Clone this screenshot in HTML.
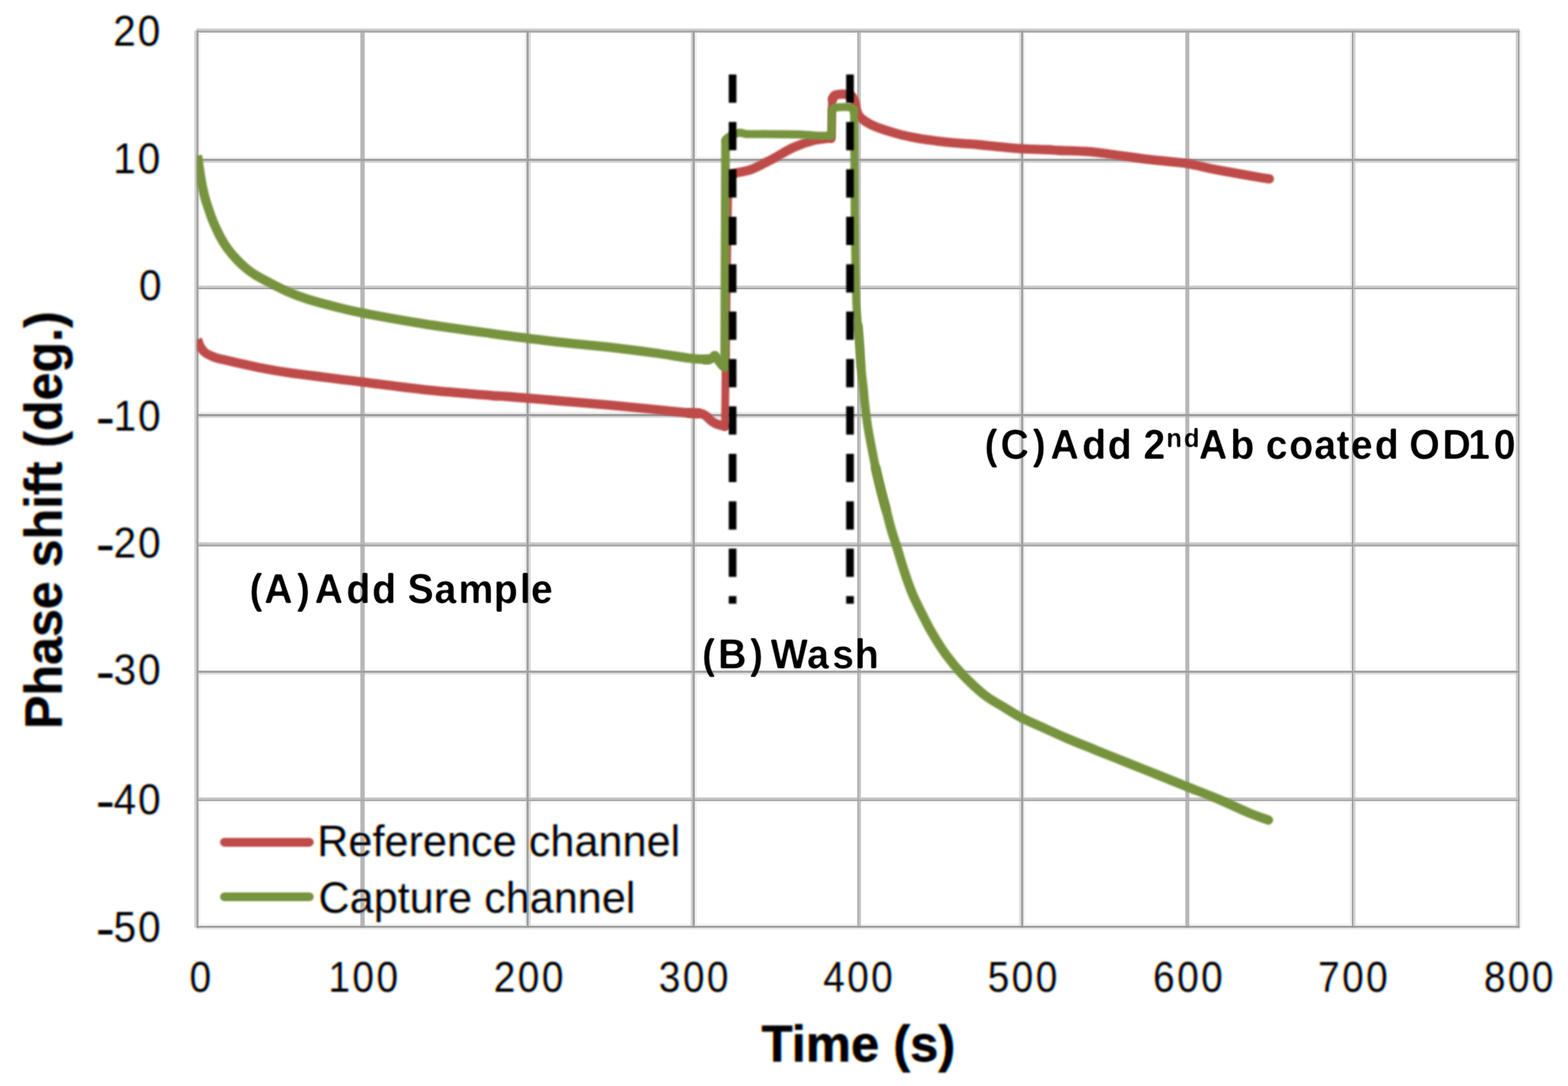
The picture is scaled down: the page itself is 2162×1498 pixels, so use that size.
<!DOCTYPE html>
<html lang="en">
<head>
<meta charset="utf-8">
<title>Phase shift vs Time</title>
<style>
html,body{margin:0;padding:0;background:#fff;}
body{width:2162px;height:1498px;overflow:hidden;}
svg{display:block;}
</style>
</head>
<body>
<svg xmlns="http://www.w3.org/2000/svg" width="2162" height="1498" viewBox="0 0 2162 1498">
<defs>
<filter id="soft" filterUnits="userSpaceOnUse" x="0" y="0" width="2162" height="1498"><feGaussianBlur stdDeviation="0.9"/></filter>
<filter id="softs" filterUnits="userSpaceOnUse" x="0" y="0" width="2162" height="1498"><feGaussianBlur stdDeviation="1.1"/></filter>
<filter id="softm" filterUnits="userSpaceOnUse" x="0" y="0" width="2162" height="1498"><feGaussianBlur stdDeviation="1.0"/></filter>
<filter id="softg" filterUnits="userSpaceOnUse" x="0" y="0" width="2162" height="1498"><feGaussianBlur stdDeviation="0.45"/></filter>
<filter id="softt" filterUnits="userSpaceOnUse" x="0" y="0" width="2162" height="1498" color-interpolation-filters="sRGB"><feGaussianBlur in="SourceGraphic" stdDeviation="0.8" result="b"/><feOffset in="b" dx="0.75" dy="0" result="r"/><feColorMatrix in="r" type="matrix" values="0 0 0 0 0  0 0 0 0 1  0 0 0 0 1  0 0 0 1 0" result="cy"/><feOffset in="b" dx="-0.75" dy="0" result="l"/><feColorMatrix in="l" type="matrix" values="0 0 0 0 1  0 0 0 0 1  0 0 0 0 0  0 0 0 1 0" result="ye"/><feColorMatrix in="b" type="matrix" values="0 0 0 0 1  0 0 0 0 0  0 0 0 0 1  0 0 0 1 0" result="mg"/><feBlend in="cy" in2="ye" mode="multiply" result="t1"/><feBlend in="t1" in2="mg" mode="multiply"/></filter>
<filter id="softa" filterUnits="userSpaceOnUse" x="0" y="0" width="2162" height="1498"><feGaussianBlur stdDeviation="1.0"/><feComponentTransfer><feFuncA type="linear" slope="2.0" intercept="-0.62"/></feComponentTransfer><feGaussianBlur stdDeviation="0.5"/></filter>
</defs>
<rect x="0" y="0" width="2162" height="1498" fill="#ffffff"/>
<g filter="url(#softg)" style="mix-blend-mode:multiply">
<rect x="270.90" y="399.00" width="1824.30" height="2.50" fill="#fbfbfb"/>
<rect x="270.90" y="45.00" width="1824.30" height="2.80" fill="#fafafa"/>
<rect x="270.90" y="922.30" width="1824.30" height="2.76" fill="#fafafa"/>
<rect x="270.90" y="753.70" width="1824.30" height="2.60" fill="#f8f8f8"/>
<rect x="270.90" y="1105.00" width="1824.30" height="2.60" fill="#f6f6f6"/>
<rect x="270.90" y="216.00" width="1824.30" height="2.90" fill="#f4f4f4"/>
<rect x="270.90" y="1274.10" width="1824.30" height="2.94" fill="#f2f2f2"/>
<rect x="273.70" y="42.10" width="2.50" height="1237.60" fill="#f1f1f1"/>
<rect x="723.10" y="42.10" width="2.80" height="1237.60" fill="#f1f1f1"/>
<rect x="958.10" y="42.10" width="2.80" height="1237.60" fill="#f1f1f1"/>
<rect x="1411.00" y="42.10" width="2.60" height="1237.60" fill="#f1f1f1"/>
<rect x="1861.10" y="42.10" width="2.80" height="1237.60" fill="#f1f1f1"/>
<rect x="2095.20" y="42.10" width="2.80" height="1237.60" fill="#f1f1f1"/>
<rect x="270.90" y="568.00" width="1824.30" height="3.06" fill="#eeeeee"/>
<rect x="270.90" y="1279.70" width="1824.30" height="2.50" fill="#e8e8e8"/>
<rect x="270.90" y="928.15" width="1824.30" height="2.55" fill="#e2e2e2"/>
<rect x="729.00" y="42.10" width="3.00" height="1237.60" fill="#dcdcdc"/>
<rect x="1405.20" y="42.10" width="2.80" height="1237.60" fill="#dcdcdc"/>
<rect x="270.90" y="574.15" width="1824.30" height="2.25" fill="#d8d8d8"/>
<rect x="1866.10" y="42.10" width="3.00" height="1237.60" fill="#d5d5d5"/>
<rect x="270.90" y="222.15" width="1824.30" height="2.55" fill="#d5d5d5"/>
<rect x="268.10" y="42.10" width="2.80" height="1237.60" fill="#d0d0d0"/>
<rect x="952.60" y="42.10" width="2.50" height="1237.60" fill="#d0d0d0"/>
<rect x="2089.90" y="42.10" width="3.10" height="1237.60" fill="#d0d0d0"/>
<rect x="270.90" y="39.30" width="1824.30" height="2.80" fill="#cdcdcd"/>
<rect x="270.90" y="393.90" width="1824.30" height="2.80" fill="#cccccc"/>
<rect x="270.90" y="748.10" width="1824.30" height="3.10" fill="#c9c9c9"/>
<rect x="1184.50" y="42.10" width="2.60" height="1237.60" fill="#c4c4c4"/>
<rect x="270.90" y="1100.06" width="1824.30" height="2.84" fill="#c4c4c4"/>
<rect x="496.80" y="42.10" width="6.05" height="1237.60" fill="#b7b7b7"/>
<rect x="1634.30" y="42.10" width="5.60" height="1237.60" fill="#b7b7b7"/>
<rect x="1182.00" y="42.10" width="2.50" height="1237.60" fill="#aeaeae"/>
<rect x="270.90" y="42.10" width="1824.30" height="2.90" fill="#a8a8a8"/>
<rect x="270.90" y="1102.90" width="1824.30" height="2.10" fill="#a8a8a8"/>
<rect x="270.90" y="396.70" width="1824.30" height="2.30" fill="#a5a5a5"/>
<rect x="270.90" y="42.10" width="2.80" height="1237.60" fill="#a1a1a1"/>
<rect x="725.90" y="42.10" width="3.10" height="1237.60" fill="#a1a1a1"/>
<rect x="955.10" y="42.10" width="3.00" height="1237.60" fill="#a1a1a1"/>
<rect x="1408.00" y="42.10" width="3.00" height="1237.60" fill="#a1a1a1"/>
<rect x="1863.90" y="42.10" width="2.20" height="1237.60" fill="#a1a1a1"/>
<rect x="2093.00" y="42.10" width="2.20" height="1237.60" fill="#a1a1a1"/>
<rect x="270.90" y="218.90" width="1824.30" height="3.25" fill="#a1a1a1"/>
<rect x="270.90" y="751.20" width="1824.30" height="2.50" fill="#a1a1a1"/>
<rect x="270.90" y="925.06" width="1824.30" height="3.09" fill="#a1a1a1"/>
<rect x="270.90" y="571.06" width="1824.30" height="3.09" fill="#9c9c9c"/>
<rect x="270.90" y="1277.04" width="1824.30" height="2.66" fill="#9c9c9c"/>
</g>
<clipPath id="plot"><rect x="271.6" y="40" width="1825" height="1241"/></clipPath>
<g filter="url(#softs)"><g fill="none" stroke-linejoin="round" stroke-linecap="round" clip-path="url(#plot)"><path d="M272.3,468.0 C272.9,469.7 274.2,474.9 276.0,478.0 C277.8,481.1 279.8,484.1 283.0,486.5 C286.2,488.9 291.2,491.0 295.0,492.5 C298.8,494.0 296.4,493.4 306.0,495.6 C315.6,497.9 337.0,502.9 352.5,506.0 C368.0,509.1 374.3,510.7 398.8,514.2 C423.3,517.7 468.6,523.0 499.4,526.9 C530.2,530.8 554.3,534.2 583.8,537.3 C613.3,540.4 656.9,543.9 676.3,545.5 C695.7,547.1 686.0,545.9 700.0,547.0 C714.0,548.1 737.8,550.1 760.0,552.0 C782.2,553.9 809.7,556.1 833.0,558.2 C856.3,560.3 880.5,562.6 900.0,564.5 C919.5,566.4 939.0,568.6 950.0,569.6 C961.0,570.6 963.3,570.1 966.0,570.2" stroke="#be4b48" stroke-width="12.8" stroke-linecap="butt"/></g></g>
<g filter="url(#softs)"><g fill="none" stroke-linejoin="round" stroke-linecap="round" clip-path="url(#plot)"><path d="M950.0,569.6 C952.7,569.7 962.2,569.6 966.0,570.2 C969.8,570.9 970.8,572.0 973.0,573.5 C975.2,575.0 977.0,577.4 979.0,579.0 C981.0,580.6 982.8,582.1 985.0,583.3 C987.2,584.5 990.0,585.4 992.0,586.0 C994.0,586.6 995.7,587.0 997.0,587.2 C998.3,587.4 999.5,587.2 1000.0,587.2" stroke="#be4b48" stroke-width="12.8"/></g></g>
<g filter="url(#soft)"><g fill="none" stroke-linejoin="round" stroke-linecap="round" clip-path="url(#plot)"><path d="M999.6,589.0 L1000.6,500.0 L1001.8,400.0 L1003.4,300.0 L1004.6,246.0" stroke="#be4b48" stroke-width="10.8"/></g></g>
<g filter="url(#softs)"><g fill="none" stroke-linejoin="round" stroke-linecap="round" clip-path="url(#plot)"><path d="M1005.6,245.0 C1005.8,244.6 1006.1,243.2 1006.8,242.5 C1007.4,241.8 1008.0,241.2 1009.5,240.5 C1011.0,239.8 1013.1,239.1 1015.7,238.4 C1018.3,237.7 1021.3,237.4 1025.0,236.5 C1028.7,235.6 1031.2,235.8 1038.0,232.8 C1044.8,229.9 1056.7,223.7 1066.0,218.8 C1075.3,213.9 1084.7,207.6 1094.0,203.4 C1103.3,199.2 1114.0,195.7 1122.0,193.6 C1130.0,191.5 1138.2,191.4 1142.0,190.8 C1145.8,190.2 1144.5,190.1 1145.0,190.0" stroke="#be4b48" stroke-width="12.8"/></g></g>
<g filter="url(#soft)"><g fill="none" stroke-linejoin="round" stroke-linecap="round" clip-path="url(#plot)"><path d="M1146.4,191.5 L1146.8,170.0 L1147.2,136.0" stroke="#be4b48" stroke-width="10.8"/></g></g>
<g filter="url(#softs)"><g fill="none" stroke-linejoin="round" stroke-linecap="round" clip-path="url(#plot)"><path d="M1148.3,136.5 C1148.5,135.9 1148.9,133.9 1149.5,133.0 C1150.1,132.1 1150.8,131.5 1152.0,131.0 C1153.2,130.5 1155.0,130.4 1157.0,130.2 C1159.0,130.0 1161.7,129.9 1164.0,130.0 C1166.3,130.1 1169.1,130.2 1171.0,130.8 C1172.9,131.4 1174.2,132.0 1175.5,133.5 C1176.8,135.0 1177.6,136.9 1178.5,140.0 C1179.4,143.1 1179.9,148.6 1181.0,152.0 C1182.1,155.4 1182.8,157.8 1185.0,160.5 C1187.2,163.2 1190.2,165.6 1194.0,168.0 C1197.8,170.4 1201.0,172.3 1208.0,175.0 C1215.0,177.7 1226.7,181.5 1236.0,184.1 C1245.3,186.7 1254.7,188.7 1264.0,190.4 C1273.3,192.2 1282.7,193.4 1292.0,194.6 C1301.3,195.8 1310.7,196.6 1320.0,197.4 C1329.3,198.2 1338.7,198.7 1348.0,199.5 C1357.3,200.3 1365.9,201.4 1376.0,202.3 C1386.1,203.2 1396.8,204.4 1408.5,205.1 C1420.2,205.8 1437.4,206.1 1446.0,206.5 C1454.6,206.9 1450.7,207.1 1460.0,207.5 C1469.3,207.9 1488.0,208.0 1502.0,209.2 C1516.0,210.4 1530.0,212.7 1544.0,214.5 C1558.0,216.3 1570.5,218.2 1586.0,220.1 C1601.5,222.0 1623.0,223.6 1637.0,225.7 C1651.0,227.8 1657.5,230.2 1670.0,232.7 C1682.5,235.1 1700.3,238.3 1712.0,240.4 C1723.7,242.5 1733.6,244.2 1740.0,245.3 C1746.4,246.4 1748.5,246.5 1750.2,246.7" stroke="#be4b48" stroke-width="12.8"/></g></g>
<g filter="url(#softs)"><g fill="none" stroke-linejoin="round" stroke-linecap="round" clip-path="url(#plot)"><path d="M272.3,214.5 C272.5,215.8 273.0,219.1 273.4,222.0 C273.8,224.9 274.2,228.0 274.8,232.0 C275.4,236.0 276.2,241.3 277.0,246.0 C277.8,250.7 278.6,255.3 279.6,260.0 C280.6,264.7 281.7,269.3 283.0,274.0 C284.3,278.7 285.9,283.3 287.5,288.0 C289.1,292.7 290.6,297.3 292.4,302.0 C294.2,306.7 296.3,311.3 298.5,316.0 C300.7,320.7 302.8,325.3 305.5,330.0 C308.2,334.7 311.1,339.3 314.6,344.0 C318.1,348.7 322.4,353.7 326.5,358.0 C330.6,362.3 334.7,366.2 339.0,369.8 C343.3,373.4 347.7,376.5 352.5,379.5 C357.3,382.5 360.7,384.2 368.0,388.0 C375.3,391.8 386.8,398.0 396.1,402.1 C405.5,406.2 413.5,409.3 424.1,412.7 C434.8,416.1 447.4,419.4 460.0,422.5 C472.6,425.6 478.8,427.6 499.4,431.6 C520.0,435.6 554.3,441.9 583.8,446.6 C613.3,451.3 646.9,455.8 676.3,459.8 C705.7,463.8 733.9,467.5 760.0,470.6 C786.1,473.7 809.7,475.6 833.0,478.2 C856.3,480.8 880.5,483.9 900.0,486.5 C919.5,489.1 938.0,492.4 950.0,494.0 C962.0,495.6 967.2,495.6 972.0,495.8 C976.8,496.1 977.8,495.6 979.0,495.5" stroke="#77933c" stroke-width="12.8" stroke-linecap="butt"/></g></g>
<g filter="url(#softs)"><g fill="none" stroke-linejoin="round" stroke-linecap="round" clip-path="url(#plot)"><path d="M972.0,495.8 C973.2,495.8 977.2,496.0 979.0,495.5 C980.8,495.0 981.9,493.8 983.0,493.0 C984.1,492.2 984.7,490.5 985.5,490.5 C986.3,490.5 986.9,491.6 988.0,493.0 C989.1,494.4 990.8,497.2 992.0,499.0 C993.2,500.8 994.3,502.5 995.5,503.5 C996.7,504.5 998.4,504.8 999.0,505.0" stroke="#77933c" stroke-width="12.8"/></g></g>
<g filter="url(#softm)"><g fill="none" stroke-linejoin="round" stroke-linecap="round" clip-path="url(#plot)"><path d="M999.3,507.0 L999.6,400.0 L1000.0,300.0 L1000.4,194.0" stroke="#77933c" stroke-width="12.0"/></g></g>
<g filter="url(#soft)"><g fill="none" stroke-linejoin="round" stroke-linecap="round" clip-path="url(#plot)"><path d="M1001.2,193.5 C1001.4,193.1 1001.7,191.7 1002.2,191.0 C1002.7,190.3 1002.9,190.2 1004.0,189.5 C1005.1,188.8 1007.0,187.4 1009.0,186.5 C1011.0,185.6 1014.0,184.4 1016.0,183.8 C1018.0,183.2 1019.2,183.1 1021.0,183.2 C1022.8,183.3 1025.0,184.2 1027.0,184.5 C1029.0,184.8 1027.5,184.9 1033.0,185.0 C1038.5,185.1 1048.8,184.9 1060.0,185.0 C1071.2,185.1 1089.2,185.0 1100.0,185.3 C1110.8,185.6 1118.3,186.7 1125.0,187.0 C1131.7,187.3 1136.8,187.3 1140.0,187.2 C1143.2,187.1 1143.3,186.6 1144.0,186.5" stroke="#77933c" stroke-width="11.2"/></g></g>
<g filter="url(#soft)"><g fill="none" stroke-linejoin="round" stroke-linecap="round" clip-path="url(#plot)"><path d="M1146.6,187.5 L1146.8,170.0 L1147.0,151.0" stroke="#77933c" stroke-width="10.8"/></g></g>
<g filter="url(#soft)"><g fill="none" stroke-linejoin="round" stroke-linecap="round" clip-path="url(#plot)"><path d="M1148.0,151.5 C1148.2,151.2 1148.5,150.1 1149.0,149.6 C1149.5,149.1 1149.8,148.7 1151.0,148.4 C1152.2,148.1 1153.7,148.2 1156.0,148.0 C1158.3,147.8 1162.3,147.5 1165.0,147.5 C1167.7,147.5 1170.2,147.7 1172.0,148.0 C1173.8,148.3 1174.6,148.7 1175.5,149.5 C1176.4,150.3 1177.0,152.4 1177.3,153.0" stroke="#77933c" stroke-width="11.2"/></g></g>
<g filter="url(#soft)"><g fill="none" stroke-linejoin="round" stroke-linecap="round" clip-path="url(#plot)"><path d="M1177.5,151.0 C1177.5,159.2 1177.7,176.8 1177.8,200.0 C1177.9,223.2 1178.1,265.7 1178.3,290.0 C1178.5,314.3 1178.8,331.0 1179.0,346.0 C1179.2,361.0 1179.4,367.3 1179.7,380.0 C1180.0,392.7 1180.2,410.3 1180.8,422.0 C1181.4,433.7 1182.5,440.7 1183.3,450.0 C1184.1,459.3 1184.8,468.7 1185.4,478.0 C1186.1,487.3 1186.9,501.3 1187.2,506.0" stroke="#77933c" stroke-width="10.8"/></g></g>
<g filter="url(#softm)"><g fill="none" stroke-linejoin="round" stroke-linecap="round" clip-path="url(#plot)"><path d="M1183.3,450.0 C1183.7,454.7 1184.8,468.7 1185.4,478.0 C1186.1,487.3 1186.4,496.7 1187.2,506.0 C1188.0,515.3 1189.3,524.7 1190.3,534.0 C1191.3,543.3 1191.9,552.7 1193.0,562.0 C1194.1,571.3 1195.3,580.7 1196.8,590.0 C1198.3,599.3 1200.1,608.7 1201.9,618.0 C1203.7,627.3 1205.5,636.7 1207.5,646.0 C1209.5,655.3 1211.8,664.7 1214.1,674.0 C1216.4,683.3 1220.3,697.3 1221.5,702.0" stroke="#77933c" stroke-width="12.0"/></g></g>
<g filter="url(#softs)"><g fill="none" stroke-linejoin="round" stroke-linecap="round" clip-path="url(#plot)"><path d="M1207.5,646.0 C1208.6,650.7 1211.8,664.7 1214.1,674.0 C1216.4,683.3 1219.0,692.7 1221.5,702.0 C1224.0,711.3 1226.1,720.7 1228.8,730.0 C1231.5,739.3 1234.6,748.3 1237.6,758.0 C1240.6,767.7 1243.5,778.0 1246.8,788.0 C1250.1,798.0 1253.6,808.3 1257.6,818.0 C1261.6,827.7 1266.2,836.7 1270.9,846.0 C1275.6,855.3 1280.2,864.7 1285.7,874.0 C1291.2,883.3 1296.8,892.7 1303.6,902.0 C1310.4,911.3 1317.8,920.6 1326.7,930.0 C1335.6,939.4 1347.2,950.5 1356.9,958.2 C1366.6,965.9 1376.2,970.6 1385.0,976.0 C1393.8,981.4 1400.2,985.8 1409.4,990.5 C1418.6,995.2 1429.9,999.9 1440.0,1004.5 C1450.1,1009.1 1458.0,1012.9 1470.0,1018.0 C1482.0,1023.1 1498.1,1029.5 1512.1,1035.2 C1526.1,1040.9 1540.1,1046.4 1554.1,1052.0 C1568.1,1057.6 1582.2,1063.2 1596.2,1068.8 C1610.2,1074.4 1624.2,1080.1 1638.2,1085.7 C1652.2,1091.3 1666.3,1096.5 1680.3,1102.5 C1694.3,1108.5 1710.8,1116.6 1722.3,1121.4 C1733.8,1126.2 1744.5,1129.6 1749.0,1131.2" stroke="#77933c" stroke-width="12.8"/></g></g>
<g stroke="#000" stroke-width="10.6" fill="none" stroke-dasharray="39 26.4" filter="url(#soft)">
<line x1="1010.1" y1="102.8" x2="1010.1" y2="832.8"/>
<line x1="1172" y1="102.8" x2="1172" y2="832.8"/>
</g>
<g fill="none" stroke-width="12.2" stroke-linecap="round" filter="url(#soft)">
<line x1="309.5" y1="1161.8" x2="426.5" y2="1161.8" stroke="#be4b48"/>
<line x1="309.5" y1="1237.0" x2="426.5" y2="1237.0" stroke="#77933c"/>
</g>
<g font-family="'Liberation Sans', Arial, Helvetica, sans-serif" fill="#000" stroke="#000" stroke-linejoin="round" filter="url(#softt)">
<text transform="translate(437.15,1181.20) scale(0.9700,1)" font-size="61.5" font-weight="normal" stroke-width="0">Reference channel</text>
<text transform="translate(439.09,1259.00) scale(0.9685,1)" font-size="61.5" font-weight="normal" stroke-width="0">Capture channel</text>
<text transform="translate(1050.01,1464.00) scale(0.9887,1)" font-size="70.8" font-weight="bold" stroke-width="0.9">Time (s)</text>
<text transform="translate(85.00,1005.43) rotate(-90) scale(0.9467,1)" font-size="73" font-weight="bold" stroke-width="0.6">Phase shift (deg.)</text>
<text transform="translate(0,62.97) scale(0.9400,1)" font-size="59.5" stroke-width="0" x="166.05 201.90">20</text>
<text transform="translate(0,238.87) scale(0.9400,1)" font-size="59.5" stroke-width="0" x="166.05 201.90">10</text>
<text transform="translate(0,414.47) scale(0.9400,1)" font-size="59.5" stroke-width="0" x="203.81">0</text>
<text transform="translate(0,593.57) scale(0.9400,1)" font-size="59.5" stroke-width="0"><tspan x="140.17" y="8.18" font-size="77.35" textLength="28.49" lengthAdjust="spacingAndGlyphs">-</tspan><tspan x="166.58 202.43" y="0">10</tspan></text>
<text transform="translate(0,768.87) scale(0.9400,1)" font-size="59.5" stroke-width="0"><tspan x="140.17" y="8.18" font-size="77.35" textLength="28.49" lengthAdjust="spacingAndGlyphs">-</tspan><tspan x="166.58 202.43" y="0">20</tspan></text>
<text transform="translate(0,944.37) scale(0.9400,1)" font-size="59.5" stroke-width="0"><tspan x="140.17" y="8.18" font-size="77.35" textLength="28.49" lengthAdjust="spacingAndGlyphs">-</tspan><tspan x="166.58 202.43" y="0">30</tspan></text>
<text transform="translate(0,1123.07) scale(0.9400,1)" font-size="59.5" stroke-width="0"><tspan x="140.17" y="8.18" font-size="77.35" textLength="28.49" lengthAdjust="spacingAndGlyphs">-</tspan><tspan x="166.58 202.43" y="0">40</tspan></text>
<text transform="translate(0,1298.67) scale(0.9400,1)" font-size="59.5" stroke-width="0"><tspan x="140.17" y="8.18" font-size="77.35" textLength="28.49" lengthAdjust="spacingAndGlyphs">-</tspan><tspan x="166.58 202.43" y="0">50</tspan></text>
<text transform="translate(0,1367.87) scale(0.9000,1)" font-size="59.5" stroke-width="0" x="290.35">0</text>
<text transform="translate(0,1367.87) scale(0.9000,1)" font-size="59.5" stroke-width="0" x="503.02 539.79 576.57">100</text>
<text transform="translate(0,1367.87) scale(0.9000,1)" font-size="59.5" stroke-width="0" x="756.35 793.13 829.91">200</text>
<text transform="translate(0,1367.87) scale(0.9000,1)" font-size="59.5" stroke-width="0" x="1009.24 1046.02 1082.79">300</text>
<text transform="translate(0,1367.87) scale(0.9000,1)" font-size="59.5" stroke-width="0" x="1261.02 1297.79 1334.57">400</text>
<text transform="translate(0,1367.87) scale(0.9000,1)" font-size="59.5" stroke-width="0" x="1513.02 1549.79 1586.57">500</text>
<text transform="translate(0,1367.87) scale(0.9000,1)" font-size="59.5" stroke-width="0" x="1766.46 1803.24 1840.02">600</text>
<text transform="translate(0,1367.87) scale(0.9000,1)" font-size="59.5" stroke-width="0" x="2019.24 2056.02 2092.79">700</text>
<text transform="translate(0,1367.87) scale(0.9000,1)" font-size="59.5" stroke-width="0" x="2273.24 2310.02 2346.79">800</text>
</g>
<g font-family="'Liberation Sans', Arial, Helvetica, sans-serif" fill="#000" font-weight="bold" filter="url(#softa)">
<text transform="translate(0,831.70) scale(0.9520,1)" font-size="57.2" xml:space="preserve"><tspan x="361.33 382.49 429.93 439.84 455.74 501.46 538.95 574.12 590.03 629.20 663.88 715.16 752.77 769.04" y="0">(A) Add Sample</tspan></text>
<text transform="translate(0,921.50) scale(0.9520,1)" font-size="57.2" xml:space="preserve"><tspan x="1016.83 1040.00 1086.15 1100.23 1116.13 1168.98 1205.18 1237.87" y="0">(B) Wash</tspan></text>
<text transform="translate(0,632.60) scale(0.9520,1)" font-size="57.2" xml:space="preserve"><tspan x="1425.99 1449.04 1495.46 1505.34 1521.24 1567.28 1604.21 1640.05 1655.95" y="0">(C) Add 2</tspan><tspan x="1689.03 1714.49" y="-15.60" font-size="37.5">nd</tspan><tspan x="1736.34 1781.77 1817.29 1833.19 1867.23 1903.28 1935.70 1956.44 1991.02 2025.01 2040.91 2088.96 2126.23 2163.27" y="0">Ab coated OD10</tspan></text>
</g>
</svg>
</body>
</html>
